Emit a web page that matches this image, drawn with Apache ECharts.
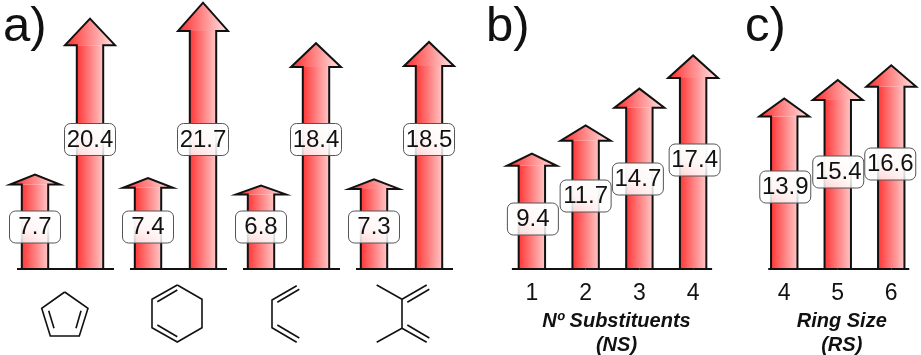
<!DOCTYPE html>
<html>
<head>
<meta charset="utf-8">
<style>html,body{margin:0;padding:0;background:#fff}#c{width:921px;height:355px}</style>
<script src="https://cdn.jsdelivr.net/npm/echarts@6/dist/echarts.min.js"></script>
</head>
<body>
<div id="c"></div>
<script>
// ---- data ----
const categoriesA = ['Cyclopentadiene', 'Cyclohexadiene', 'Butadiene', 'Dimethylbutadiene'];
const valuesALow = [7.7, 7.4, 6.8, 7.3];
const valuesAHigh = [20.4, 21.7, 18.4, 18.5];
const categoriesB = ['1', '2', '3', '4'];
const valuesB = [9.4, 11.7, 14.7, 17.4];
const categoriesC = ['4', '5', '6'];
const valuesC = [13.9, 15.4, 16.6];

// ---- layout (pixels, never data) ----
const FONT = '"Liberation Sans", Arial, sans-serif';
const INK = '#111111';
const panelLabelRise = {
  aLow: [42, 42, 42, 42],
  aHigh: [129.5, 129.5, 129.5, 129.5],
  b: [50, 73, 90, 109],
  c: [82, 97, 105]
};
function shaftFill() {
  return { type: 'linear', x: 0, y: 0, x2: 1, y2: 0, colorStops: [
    { offset: 0, color: '#ff3636' },
    { offset: 0.5, color: '#ff7f7f' },
    { offset: 1, color: '#ffc6c6' }
  ] };
}
function headFill() {
  return { type: 'linear', x: 0, y: 0, x2: 1, y2: 0, colorStops: [
    { offset: 0, color: '#ff2a2a' },
    { offset: 0.5, color: '#ff8a8a' },
    { offset: 1, color: '#ffe6e6' }
  ] };
}

function arrowRenderer(cfg) {
  return function (params, api) {
    const idx = api.value(0), v = api.value(1);
    const tip = api.coord([idx, v]);
    const base = api.coord([idx, 0]);
    const neck = api.coord([idx, v * 0.894]);
    const band = api.size([1, 0])[0];
    const cx = tip[0] + (cfg.dx || 0);
    const y0 = base[1], yN = neck[1], yT = tip[1];
    const hs = 13.2;
    const hw = 25;
    const children = [
      { type: 'rect', shape: { x: cx - hs, y: yN, width: hs * 2, height: y0 - yN }, style: { fill: shaftFill() }, z2: 1 },
      { type: 'polygon', shape: { points: [[cx - hw, yN], [cx, yT], [cx + hw, yN]] }, style: { fill: headFill() }, z2: 1 },
      { type: 'polyline',
        shape: { points: [[cx - hs, y0], [cx - hs, yN], [cx - hw, yN], [cx, yT], [cx + hw, yN], [cx + hs, yN], [cx + hs, y0]] },
        style: { fill: 'none', stroke: INK, lineWidth: 2, lineJoin: 'miter', miterLimit: 10 }, z2: 2 }
    ];
    if (cfg.baseline) {
      const b = cfg.baseline(tip[0], band, params.dataIndex, params.dataInsideLength);
      children.push({ type: 'line', shape: { x1: b[0], y1: y0, x2: b[1], y2: y0 },
        style: { stroke: INK, lineWidth: 2 }, z2: 3 });
    }
    const ly = y0 - cfg.rise[params.dataIndex];
    const lx = cx + (cfg.labelDx ? cfg.labelDx[params.dataIndex] : 0);
    children.push({
      type: 'rect', shape: { x: lx - 25.5, y: ly - 16, width: 51, height: 32, r: 6 },
      style: {
        fill: { type: 'linear', x: 0, y: 0, x2: 0, y2: 1, colorStops: [
          { offset: 0, color: 'rgba(255,255,255,0.98)' },
          { offset: 0.55, color: 'rgba(255,255,255,0.94)' },
          { offset: 1, color: 'rgba(255,255,255,0.78)' }
        ] },
        stroke: '#555555', lineWidth: 1
      }, z2: 4
    });
    children.push({
      type: 'text', z2: 5,
      style: { text: v.toFixed(1), x: lx, y: ly + 0.5, align: 'center', verticalAlign: 'middle',
        fontFamily: FONT, fontSize: 24, fill: INK }
    });
    return { type: 'group', children: children };
  };
}

function lineEl(points) {
  return { type: 'polyline', shape: { points: points }, style: { fill: 'none', stroke: INK, lineWidth: 1.6, lineJoin: 'miter' } };
}
const molecules = [
  lineEl([[64.7,292],[88,308.3],[79.3,336],[50.3,336],[41.7,308.3],[64.7,292]]),
  lineEl([[48.7,310.7],[54,328.3]]), lineEl([[81,310.7],[76,328.3]]),
  lineEl([[177.3,285],[202,299.3],[202,327.7],[177.3,342],[152,327.7],[152,299.3],[177.3,285]]),
  lineEl([[157.3,301.7],[177.3,290]]), lineEl([[157.3,325],[177.3,336.7]]),
  lineEl([[296.7,285.7],[272,300],[272,327.7],[296.7,342.3]]),
  lineEl([[299.3,289.3],[277.3,302.3]]), lineEl([[277.3,325],[299.3,338]]),
  lineEl([[376.7,285],[402,299.3],[402,328.3],[376.7,342.3]]),
  lineEl([[402,299.3],[426.7,285]]), lineEl([[407.3,302.3],[429.3,289.3]]),
  lineEl([[402,328.3],[426.7,342.3]]), lineEl([[407.3,325],[429.3,338]])
];

function hiddenY(i) {
  return { type: 'value', gridIndex: i, min: 0, max: 22, show: false };
}
function catAxis(i, data, name) {
  const shown = !!name;
  return {
    type: 'category', gridIndex: i, data: data,
    axisLine: { show: false }, axisTick: { show: false }, splitLine: { show: false },
    axisLabel: { show: shown, color: INK, fontFamily: FONT, fontSize: 23, margin: 13 },
    name: name || '', nameLocation: 'middle', nameGap: 34,
    nameTextStyle: { color: INK, fontFamily: FONT, fontSize: 20, fontWeight: 'bold', fontStyle: 'italic', lineHeight: 24, padding: [0, 0, 0, 8], verticalAlign: 'top' }
  };
}
function points(values) { return values.map(function (v, i) { return [i, v]; }); }
function customSeries(i, name, values, cfg) {
  return { type: 'custom', name: name, xAxisIndex: i, yAxisIndex: i, data: points(values),
    encode: { x: 0, y: 1 }, clip: false, silent: true, renderItem: arrowRenderer(cfg) };
}
function title(text, left) {
  return { text: text, left: left, top: 3, padding: 0,
    textStyle: { fontFamily: FONT, fontSize: 49, fontWeight: 'normal', color: INK } };
}

const chart = echarts.init(document.getElementById('c'), null, { renderer: 'canvas' });
chart.setOption({
  animation: false,
  backgroundColor: '#ffffff',
  title: [title('a)', 3), title('b)', 486), title('c)', 745)],
  grid: [
    { left: 6, top: -1, width: 452, height: 270, outerBoundsMode: 'none' },
    { left: 505, top: -1, width: 215, height: 270, outerBoundsMode: 'none' },
    { left: 757.5, top: -1, width: 160.5, height: 270, outerBoundsMode: 'none' }
  ],
  xAxis: [catAxis(0, categoriesA), catAxis(1, categoriesB, 'Nº Substituents\n(NS)'), catAxis(2, categoriesC, 'Ring Size\n(RS)')],
  yAxis: [hiddenY(0), hiddenY(1), hiddenY(2)],
  series: [
    customSeries(0, 'Low', valuesALow, { dx: -27.5, rise: panelLabelRise.aLow,
      baseline: function (x) { return [x - 48.5 + 3, x + 48.5 + 3]; } }),
    customSeries(0, 'High', valuesAHigh, { dx: 27.5, rise: panelLabelRise.aHigh }),
    customSeries(1, 'NS', valuesB, { rise: panelLabelRise.b, labelDx: [1, 0, -1.5, 1.5],
      baseline: function (x, band, i, n) { return [i === 0 ? x - 20 : x, i === n - 1 ? x + 19 : x + band]; } }),
    customSeries(2, 'RS', valuesC, { rise: panelLabelRise.c, labelDx: [1, 0.5, -1],
      baseline: function (x, band, i, n) { return [i === 0 ? x - 16 : x, i === n - 1 ? x + 18 : x + band]; } })
  ],
  graphic: { elements: molecules }
});
</script>
</body>
</html>
